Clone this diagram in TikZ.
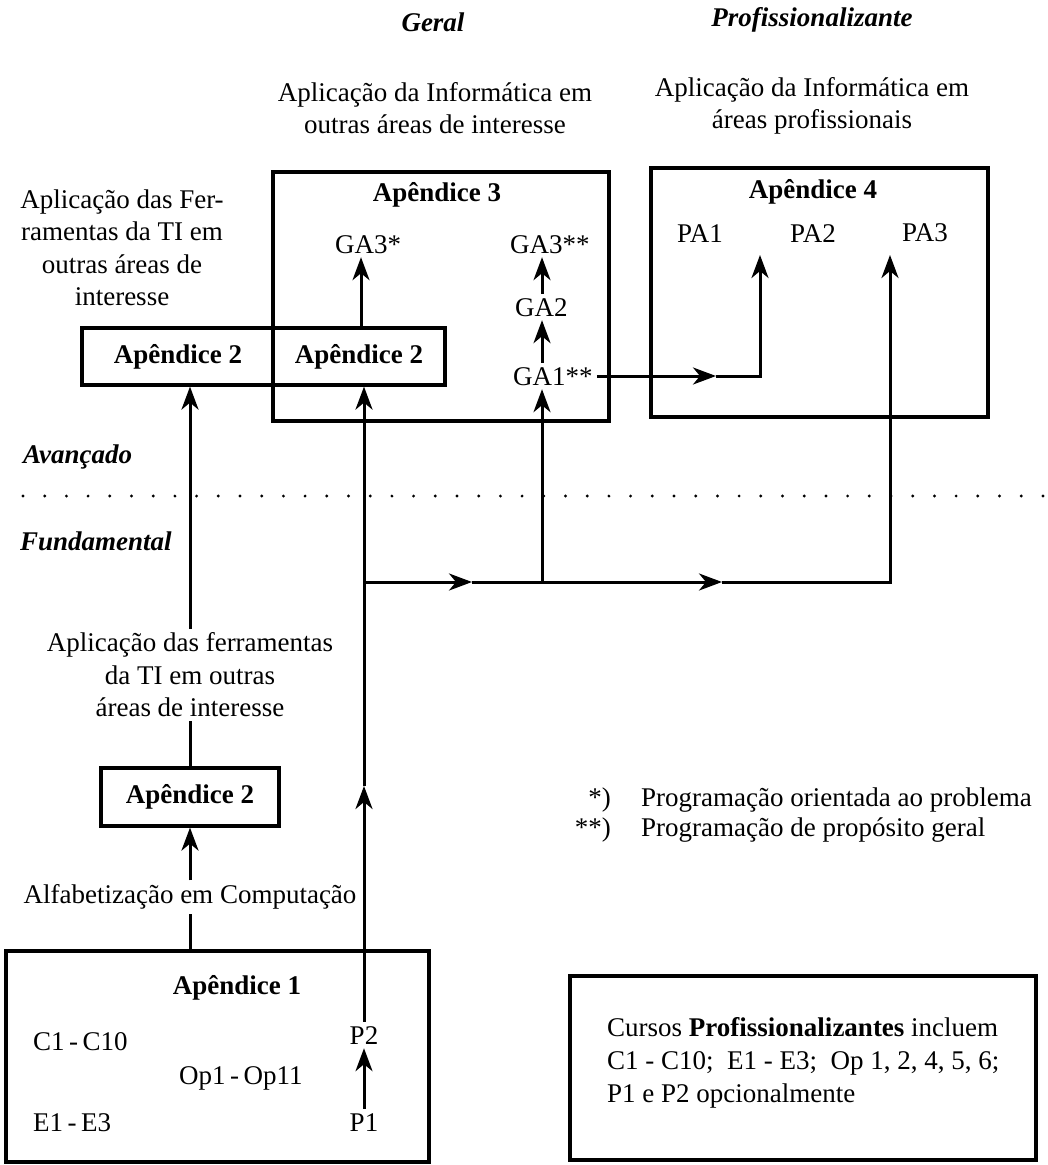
\documentclass[tikz,border=0pt]{standalone}
\usepackage{fontspec}
\setmainfont{Liberation Serif}
\usetikzlibrary{arrows.meta}
\begin{document}
\begin{tikzpicture}[x=1pt,y=-1pt,
  every node/.style={font=\fontsize{27}{32.5}\selectfont, inner sep=4pt},
  box/.style={draw, line width=3.2pt},
  ln/.style={line width=3pt},
  arr/.style={line width=3pt, -{Stealth[length=23pt,width=17pt,inset=7pt]}},
  bi/.style={font=\fontsize{27}{32.5}\selectfont\bfseries\itshape},
  bf/.style={font=\fontsize{27}{32.5}\selectfont\bfseries},
  lab/.style={text height=18pt, text depth=0pt},
]
\useasboundingbox (0,0) rectangle (1048,1165);

% headings
\node[bi] (geral) at (433,22) {Geral};
\node[bi] (prof) at (812,20) {Profissionalizante};
\node[align=center] (tg) at (435,108) {Aplicação da Informática em\\outras áreas de interesse};
\node[align=center] (tp) at (812,106) {Aplicação da Informática em\\áreas profissionais};
\node[align=center] (tl) at (122,248) {Aplicação das Fer-\\ramentas da TI em\\outras áreas de\\interesse};

% boxes
\node[box, minimum width=336pt, minimum height=249pt] (ap3) at (441,296.5) {};
\node[box, minimum width=337pt, minimum height=249pt] (ap4) at (819.5,292.5) {};
\node[box, minimum width=363pt, minimum height=57pt] (ap2w) at (263.5,356.5) {};
\node[box, bf, minimum width=178pt, minimum height=58pt] (ap2s) at (190,797) {Apêndice 2};
\node[box, minimum width=423pt, minimum height=211pt] (ap1) at (217.5,1056.5) {};
\node[box, minimum width=466pt, minimum height=184pt] (nb) at (803,1068) {};

% box contents
\node[bf] (ap3t) at (437,195) {Apêndice 3};
\node[bf] (ap4t) at (813,192) {Apêndice 4};
\node[lab, anchor=west] (ga3a) at (331,244) {GA3*};
\node[lab, anchor=west] (ga3b) at (506,244) {GA3**};
\node[lab, anchor=west] (ga2) at (511,307) {GA2};
\node[lab, anchor=west] (ga1) at (509,376) {GA1**};
\node[lab] (pa1) at (700,233) {PA1};
\node[lab] (pa2) at (813,233) {PA2};
\node[lab] (pa3) at (925,232) {PA3};
\node[bf] (ap2l) at (178,357) {Apêndice 2};
\node[bf] (ap2r) at (359,357) {Apêndice 2};

\node[bi, anchor=west] (av) at (19,457) {Avançado};
\node[bi, anchor=west] (fu) at (16,541) {Fundamental};

\node[align=center] (apl) at (190,675) {Aplicação das ferramentas\\da TI em outras\\áreas de interesse};
\node (alf) at (190,897) {Alfabetização em Computação};

\node[bf] (ap1t) at (237,988) {Apêndice 1};
\node[anchor=west] (c1) at (29,1042) {C1\,-\,C10};
\node[anchor=west] (op) at (175,1078) {Op1\,-\,Op11};
\node[anchor=west] (e1) at (29,1123) {E1\,-\,E3};
\node[lab] (p2) at (364,1035) {P2};
\node[lab] (p1) at (364,1122) {P1};

% legend
\node[anchor=east] (s1) at (615,800) {*)};
\node[anchor=east] (s2) at (615,830) {**)};
\node[anchor=west] (l1) at (637,800) {Programação orientada ao problema};
\node[anchor=west] (l2) at (637,830) {Programação de propósito geral};

\node[anchor=west, align=left, font=\fontsize{27}{33}\selectfont] (nt) at (603,1063)
  {Cursos \textbf{Profissionalizantes} incluem\\C1 - C10;~ E1 - E3;~ Op 1, 2, 4, 5, 6;\\P1 e P2 opcionalmente};

% dotted separator
\draw[line width=3.2pt, line cap=round, dash pattern=on 0pt off 21.7pt] (23,496) -- (1048,496);

% coordinates
\coordinate (c361) at (361,0);
\coordinate (c716) at (716,0);
\coordinate (c760) at (760,0);
\coordinate (m1) at (364,786);
\coordinate (j1) at (364,582);
\coordinate (h1) at (472,582);
\coordinate (j2) at (542,582);
\coordinate (h2) at (722,582);
\coordinate (j3) at (890,582);
\coordinate (t1) at (760,255);
\coordinate (t2) at (890,255);

% left column
\draw[ln] (ap1.north -| alf) -- (alf.south);
\draw[arr] (alf.north) -- (ap2s.south);
\draw[ln] (ap2s.north) -- (apl.south);
\draw[arr] (apl.north) -- (ap2w.south -| apl);

% main column
\draw[arr] (p1.north) -- (p2.south);
\draw[arr] (p2.north) -- (m1);
\draw[arr] (m1) -- (ap2w.south -| p2);
\draw[arr] (ap2w.north -| c361) -- (ga3a.south -| c361);

% horizontal branch
\draw[arr] (j1) -- (h1);
\draw[ln] (h1) -- (j2);
\draw[arr] (j2) -- (h2);
\draw[arr] (h2) -- (j3) -- (t2);
\draw[arr] (j2) -- (ga1.south -| j2);
\draw[arr] (ga1.north -| j2) -- (ga2.south -| j2);
\draw[arr] (ga2.north -| j2) -- (ga3b.south -| j2);

% GA1 to Apendice 4
\draw[arr] (ga1.east) -- (ga1.east -| c716);
\draw[arr] (ga1.east -| c716) -- (ga1.east -| c760) -- (t1);
\end{tikzpicture}
\end{document}
